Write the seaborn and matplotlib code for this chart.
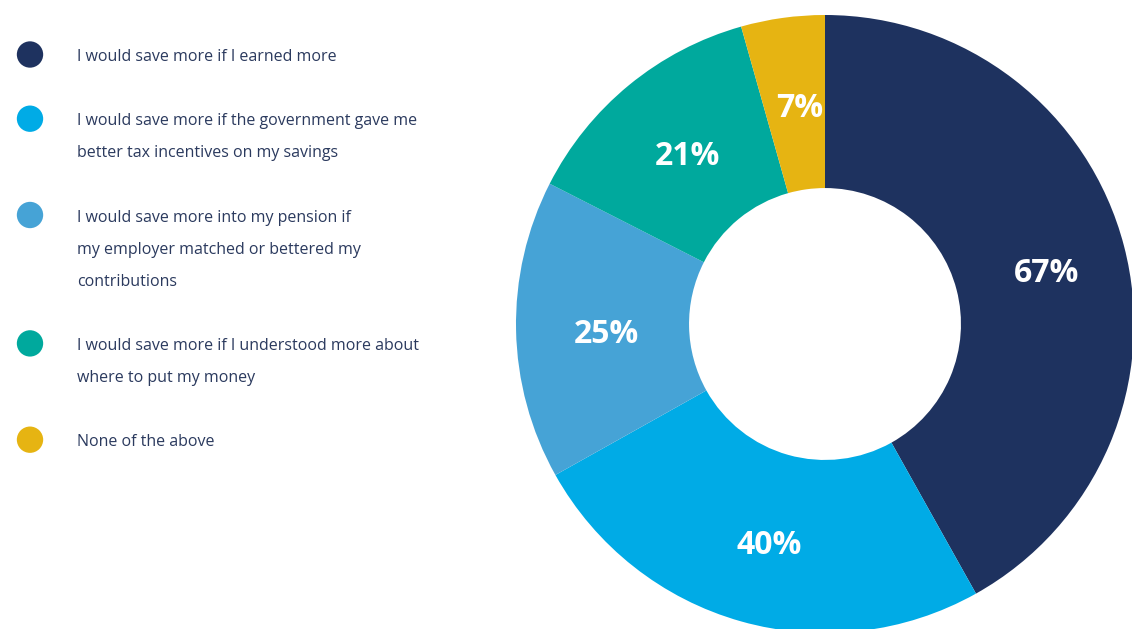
import matplotlib
matplotlib.use("Agg")
import matplotlib.pyplot as plt
import matplotlib.transforms as mtransforms
import seaborn as sns

# Survey answers and shares of respondents (percent)
categories = [
    "I would save more if I earned more",
    "I would save more if the government gave me\nbetter tax incentives on my savings",
    "I would save more into my pension if\nmy employer matched or bettered my\ncontributions",
    "I would save more if I understood more about\nwhere to put my money",
    "None of the above",
]
values = [67, 40, 25, 21, 7]
colors = ["#1E325F", "#00ABE6", "#46A3D6", "#00A99D", "#E6B412"]

sns.set_theme(style="white")
plt.rcParams["font.family"] = ["Open Sans", "DejaVu Sans"]

W, H = 1132, 629
fig = plt.figure(figsize=(W / 100, H / 100), dpi=100)
fig.patch.set_facecolor("white")

# Donut chart
cx, cy, r = 825, 324, 309
ax = fig.add_axes([(cx - r) / W, (H - cy - r) / H, 2 * r / W, 2 * r / H])
total = sum(values)
wedges, _, autotexts = ax.pie(
    values,
    colors=sns.color_palette(colors),
    startangle=90,
    counterclock=False,
    radius=1.0,
    wedgeprops=dict(width=0.56, edgecolor="none"),
    autopct=lambda p: f"{round(p * total / 100)}%",
    pctdistance=0.725,
    textprops=dict(color="white", fontsize=23, fontweight="bold"),
)
# nudge the percentage labels slightly right and down
for t in autotexts:
    t.set_transform(mtransforms.offset_copy(ax.transData, fig=fig, x=5, y=-6, units="dots"))
ax.set_xlim(-1, 1)
ax.set_ylim(-1, 1)
ax.set_aspect("auto")
ax.axis("off")

# Legend panel on the left, in pixel-like coordinates
lax = fig.add_axes([0, 0, 0.42, 1])
lax.set_xlim(0, 0.42 * W)
lax.set_ylim(H, 0)
lax.axis("off")

line_step = 32.1
y0 = 54.5
lines_before = 0
text_color = "#2B3A5E"
for i, (label, col) in enumerate(zip(categories, colors)):
    y = y0 + line_step * (lines_before + i)
    lax.scatter([30], [y], s=360, color=col, edgecolors="none")
    parts = label.split("\n")
    for k, part in enumerate(parts):
        lax.text(77, y + 2.5 + k * line_step, part, va="center", ha="left",
                 fontsize=11.5, color=text_color)
    lines_before += len(parts)

fig.savefig("out.png", dpi=100, facecolor="white")
